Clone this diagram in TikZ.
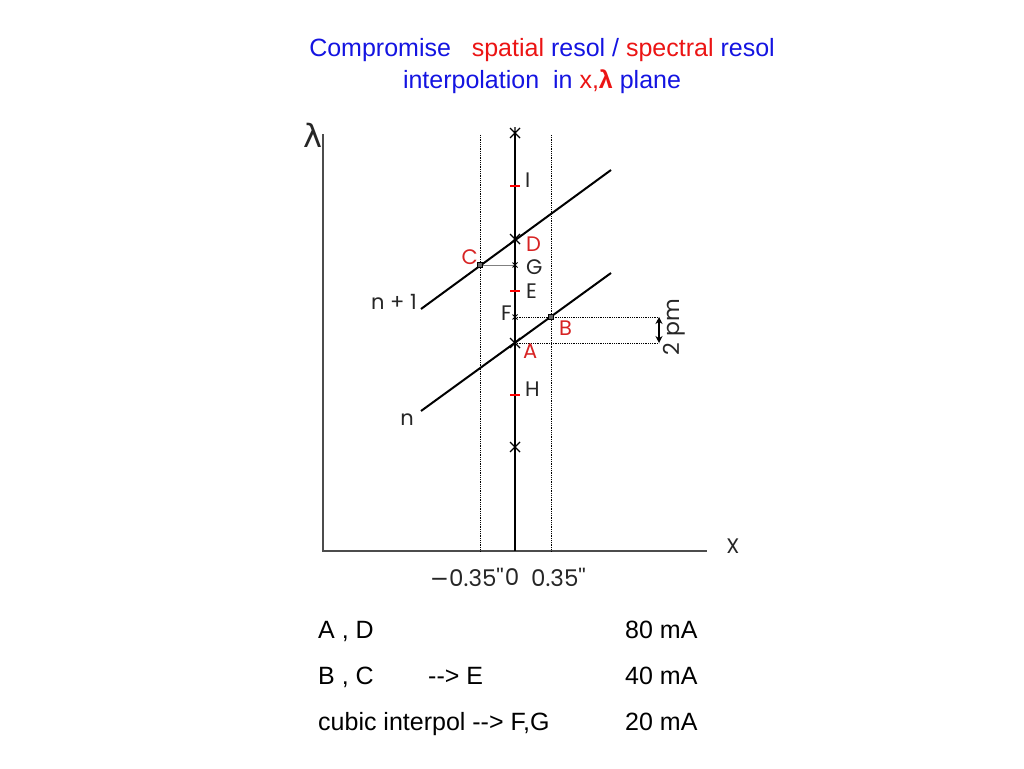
\documentclass[tikz,border=0pt]{standalone}
\usepackage{fontspec}
\setmainfont{Liberation Sans}
\newfontfamily\plotfont[Ligatures=TeXOff]{Poppins}
\newfontfamily\greekfont{DejaVu Sans}
\usetikzlibrary{arrows.meta}

\definecolor{tblue}{RGB}{20,20,225}
\definecolor{tred}{RGB}{235,20,20}
\definecolor{lred}{RGB}{215,35,35}

\begin{document}
\begin{tikzpicture}[x=1pt,y=-1pt,
    axis/.style={draw=black!70, line width=1.3pt},
    fibre/.style={line width=2pt},
    slitedge/.style={densely dotted, line width=0.8pt},
    guide/.style={densely dotted, line width=0.8pt},
    lbl/.style={font=\plotfont\fontsize{21}{21}\selectfont, inner sep=0pt, text=black!85},
    rlbl/.style={lbl, text=lred},
    ticklbl/.style={lbl, font=\plotfont\fontsize{23}{23}\selectfont},
    title/.style={font=\fontsize{25}{28}\selectfont, text=tblue, inner sep=0pt},
    row/.style={font=\fontsize{25}{28}\selectfont, anchor=base west, inner sep=0pt},
    starmark/.pic={\draw[line width=1.2pt] (-5,-5) -- (5,5) (-5,5) -- (5,-5) (0,-6) -- (0,6);},
    redtick/.pic={\draw[red, line width=1.6pt] (-5,0) -- (5,0);},
    boxmark/.pic={\draw[line width=1pt, fill=black!60] (-2.5,-2.5) rectangle (2.5,2.5);},
    xmark/.pic={\draw[line width=1pt] (-2.5,-2.5) -- (2.5,2.5) (-2.5,2.5) -- (2.5,-2.5);},
  ]
\useasboundingbox (0,0) rectangle (1024,768);

% title
\node[title] (t1) at (542,50) {Compromise\ \ \ \textcolor{tred}{spatial} resol / \textcolor{tred}{spectral} resol};
\node[title] (t2) at (542,82) {interpolation\ \ in \textcolor{tred}{x,{\bfseries λ}} plane};

% axes
\coordinate (O) at (323,551);
\coordinate (ytop) at (323,134);
\coordinate (xend) at (707,551);
\draw[axis] (ytop) -- (O) -- (xend);
\node[font=\greekfont\fontsize{32}{32}\selectfont, text=black!85, inner sep=0pt] (lam) at (313,135) {λ};
\node[lbl] (xlab) at (733,546) {X};

% slit
\coordinate (vtop) at (515,133);
\coordinate (vbot) at (515,551);
\coordinate (ltop) at (480,135);
\coordinate (lbot) at (480,551);
\coordinate (rtop) at (551,135);
\coordinate (rbot) at (551,551);
\draw[slitedge] (ltop) -- (lbot);
\draw[slitedge] (rtop) -- (rbot);
\draw[fibre] (vtop) -- (vbot);

% spectral orders
\coordinate (m1a) at (421,309);
\coordinate (m1b) at (611,170);
\coordinate (m0a) at (421,411);
\coordinate (m0b) at (611,273);
\draw[fibre] (m1a) -- (m1b);
\draw[fibre] (m0a) -- (m0b);
\node[lbl, anchor=east] (nplus) at (417,302) {n + 1};
\node[lbl] (nlab) at (407,420) {n};

% sample points
\coordinate (S1) at (515,133);
\coordinate (D) at (515,239);
\coordinate (A) at (515,343);
\coordinate (S2) at (515,447);
\coordinate (I) at (515,186);
\coordinate (E) at (515,291);
\coordinate (H) at (515,395);
\coordinate (C) at (480,265);
\coordinate (G) at (515,265);
\coordinate (B) at (551,317);
\coordinate (F) at (515,317);
\coordinate (F2) at (659,317);
\coordinate (A2) at (659,343);

\draw[black!50, line width=0.8pt] (C) -- (G);
\draw[guide] (F) -- (F2);
\draw[guide] (A) -- (A2);
\draw[{Stealth[length=7pt,width=7pt]}-{Stealth[length=7pt,width=7pt]}, line width=1.4pt] (F2) -- (A2);
\node[lbl, rotate=90, font=\plotfont\fontsize{22}{22}\selectfont] (pm) at (674,327) {2\ pm};

\foreach \p in {S1,D,A,S2} \pic at (\p) {starmark};
\foreach \p in {I,E,H} \pic at (\p) {redtick};
\foreach \p in {C,B} \pic at (\p) {boxmark};
\foreach \p in {G,F} \pic at (\p) {xmark};

\node[lbl, anchor=west] (lI) at (525,180) {I};
\node[rlbl, anchor=west] (lD) at (526,244) {D};
\node[lbl, anchor=west] (lG) at (526,267) {G};
\node[lbl, anchor=west] (lE) at (526,291) {E};
\node[lbl, anchor=east] (lF) at (512,313) {F};
\node[rlbl, anchor=west] (lB) at (559,328) {B};
\node[rlbl, anchor=west] (lA) at (523,351) {A};
\node[lbl, anchor=west] (lH) at (525,389) {H};
\node[rlbl, anchor=east] (lC) at (478,257) {C};

% ticks
\node[ticklbl, anchor=east] (tm) at (504,577) {{\greekfont −}0.35''};
\node[ticklbl] (t0) at (512,577) {0};
\node[ticklbl, anchor=west] (tp) at (531,577) {0.35''};

% table
\node[row] (r1) at (318,638) {A , D};
\node[row] (r1c) at (625,638) {80 mA};
\node[row] (r2) at (318,684) {B , C};
\node[row] (r2b) at (428,684) {-{}-> E};
\node[row] (r2c) at (625,684) {40 mA};
\node[row] (r3) at (318,730) {cubic interpol -{}-> F,G};
\node[row] (r3c) at (625,730) {20 mA};
\end{tikzpicture}
\end{document}
